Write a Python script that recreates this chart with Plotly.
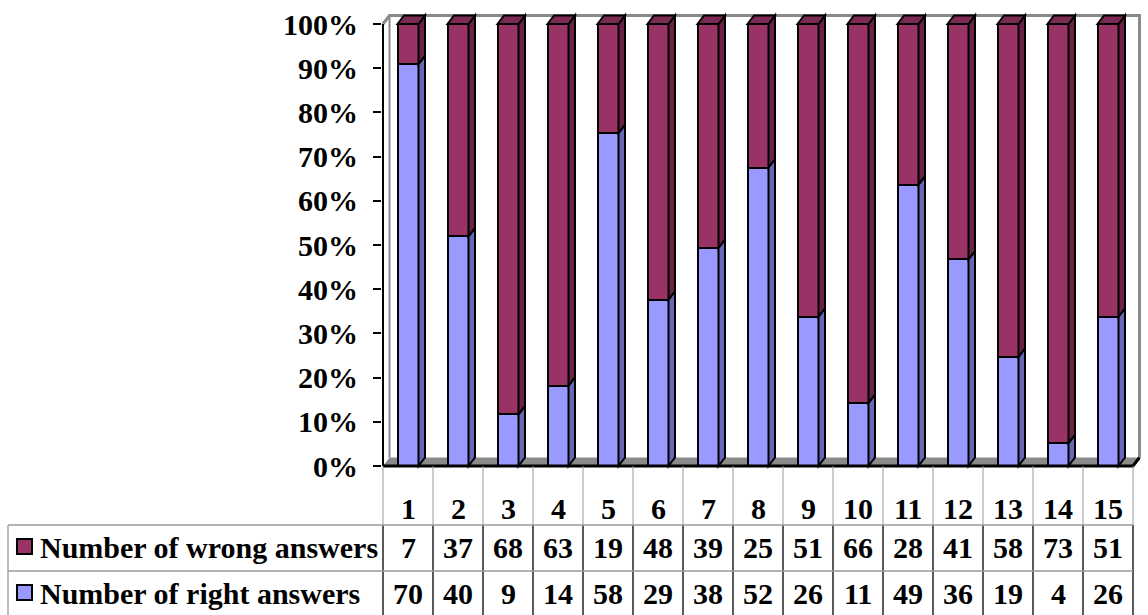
import plotly.graph_objects as go

# ---- data -------------------------------------------------------------
questions = list(range(1, 16))
wrong_answers = [7, 37, 68, 63, 19, 48, 39, 25, 51, 66, 28, 41, 58, 73, 51]
right_answers = [70, 40, 9, 14, 58, 29, 38, 52, 26, 11, 49, 36, 19, 4, 26]
series_names = ["Number of wrong answers", "Number of right answers"]
y_tick_values = [0, 10, 20, 30, 40, 50, 60, 70, 80, 90, 100]
y_tick_labels = [f"{v}%" for v in y_tick_values]

totals = [r + w for r, w in zip(right_answers, wrong_answers)]
pct_right = [100.0 * r / t for r, t in zip(right_answers, totals)]
pct_wrong = [100.0 * w / t for w, t in zip(wrong_answers, totals)]

# ---- page geometry (pixels) -------------------------------------------
W, H = 1148, 615
PLOT_LEFT, PLOT_RIGHT = 382, 1142
PLOT_TOP, PLOT_BOTTOM = 12, 469
PX_PER_CAT = 50.0
ZERO_PX, HUNDRED_PX = 466.0, 24.0
PX_PER_PCT = (ZERO_PX - HUNDRED_PX) / 100.0

plot_w = PLOT_RIGHT - PLOT_LEFT
plot_h = PLOT_BOTTOM - PLOT_TOP
x_lo = 0.5 - 1.0 / PX_PER_CAT
x_range = [x_lo, x_lo + plot_w / PX_PER_CAT]
y_range = [-(PLOT_BOTTOM - ZERO_PX) / PX_PER_PCT, (ZERO_PX - PLOT_TOP) / PX_PER_PCT]

DEPTH_X, DEPTH_Y = 6.5, 8.5
dx = DEPTH_X / PX_PER_CAT
dy = DEPTH_Y / PX_PER_PCT
BAR_W = 0.42
half = BAR_W / 2
x_first, x_last = questions[0] - 0.5, questions[-1] + 0.5

FONT = "Liberation Serif"
BLUE, BLUE_SIDE = "#9999FF", "#6767B5"
MAROON, MAROON_SIDE, MAROON_TOP = "#993366", "#6A2347", "#7B2A53"
GREY = "#8A8A8A"


def data_px_x(v):
    return PLOT_LEFT + (v - x_range[0]) * PX_PER_CAT


def paper_x(px):
    return (px - PLOT_LEFT) / plot_w


def paper_y(px):
    return (PLOT_BOTTOM - px) / plot_h


fig = go.Figure()
fig.add_trace(go.Bar(
    x=questions, y=pct_right, name=series_names[1], width=BAR_W,
    marker=dict(color=BLUE, line=dict(color="black", width=2.3)),
    showlegend=False, hoverinfo="skip"))
fig.add_trace(go.Bar(
    x=questions, y=pct_wrong, name=series_names[0], width=BAR_W,
    marker=dict(color=MAROON, line=dict(color="black", width=2.3)),
    showlegend=False, hoverinfo="skip"))

shapes = []

# back walls and floor of the 3-D box
shapes.append(dict(
    type="path", xref="x", yref="y", layer="below",
    path=(f"M {x_first},0 L {x_first + dx},{dy} L {x_last + dx},{dy} "
          f"L {x_last},0 Z"),
    fillcolor=GREY, line=dict(width=0)))
shapes.append(dict(
    type="path", xref="x", yref="y", layer="below",
    path=(f"M {x_first},100 L {x_first + dx},{100 + dy} "
          f"L {x_last + dx},{100 + dy} L {x_last + dx},{dy}"),
    line=dict(color=GREY, width=3)))
shapes.append(dict(
    type="line", xref="x", yref="y", layer="below",
    x0=x_first + dx, y0=dy, x1=x_first + dx, y1=100 + dy,
    line=dict(color=GREY, width=2)))

# side and top faces of each stacked column
for q, pr in zip(questions, pct_right):
    xr = q + half
    for y0, y1, col in ((0, pr, BLUE_SIDE), (pr, 100, MAROON_SIDE)):
        shapes.append(dict(
            type="path", xref="x", yref="y", layer="above",
            path=(f"M {xr},{y0} L {xr + dx},{y0 + dy} L {xr + dx},{y1 + dy} "
                  f"L {xr},{y1} Z"),
            fillcolor=col, line=dict(color="black", width=2)))
    shapes.append(dict(
        type="path", xref="x", yref="y", layer="above",
        path=(f"M {q - half},100 L {q - half + dx},{100 + dy} "
              f"L {xr + dx},{100 + dy} L {xr},100 Z"),
        fillcolor=MAROON_TOP, line=dict(color="black", width=2)))

# value axis line and front floor edge
shapes.append(dict(
    type="line", xref="x", yref="y", layer="above",
    x0=x_first, y0=0, x1=x_first, y1=100, line=dict(color="black", width=2)))
shapes.append(dict(
    type="path", xref="x", yref="y", layer="above",
    path=f"M {x_first},0 L {x_last},0 L {x_last + dx},{dy}",
    line=dict(color="black", width=3)))

# ---- data table under the chart ---------------------------------------
TABLE_TOP, ROW1, ROW2, TABLE_BOTTOM = 466, 525, 571, 615
TABLE_LEFT = 8
col_edges = [data_px_x(q - 0.5) for q in questions] + [data_px_x(questions[-1] + 0.5)]
LINE_GREY = "#9A9A9A"

for xe in col_edges:
    shapes.append(dict(
        type="line", xref="paper", yref="paper",
        x0=paper_x(xe), x1=paper_x(xe), y0=paper_y(TABLE_TOP), y1=paper_y(ROW1),
        line=dict(color=LINE_GREY, width=1)))
    shapes.append(dict(
        type="line", xref="paper", yref="paper",
        x0=paper_x(xe), x1=paper_x(xe), y0=paper_y(ROW1), y1=paper_y(TABLE_BOTTOM + 2),
        line=dict(color="black", width=1.3)))
for yl in (ROW1, ROW2):
    shapes.append(dict(
        type="line", xref="paper", yref="paper",
        x0=paper_x(TABLE_LEFT), x1=paper_x(col_edges[-1]),
        y0=paper_y(yl), y1=paper_y(yl),
        line=dict(color=LINE_GREY, width=1.3)))
shapes.append(dict(
    type="line", xref="paper", yref="paper",
    x0=paper_x(TABLE_LEFT), x1=paper_x(TABLE_LEFT),
    y0=paper_y(ROW1), y1=paper_y(TABLE_BOTTOM + 2),
    line=dict(color=LINE_GREY, width=1.3)))

annotations = []
cell_font = dict(family=FONT, size=30, color="black", weight="bold")
HEADER_Y, WRONG_Y, RIGHT_Y = 508, 547, 593

for q in questions:
    annotations.append(dict(
        x=q, xref="x", y=paper_y(HEADER_Y), yref="paper", text=str(q),
        showarrow=False, font=cell_font, xanchor="center", yanchor="middle"))
for row_y, values in ((WRONG_Y, wrong_answers), (RIGHT_Y, right_answers)):
    for q, v in zip(questions, values):
        annotations.append(dict(
            x=q, xref="x", y=paper_y(row_y), yref="paper", text=str(v),
            showarrow=False, font=cell_font, xanchor="center", yanchor="middle"))

# legend keys inside the table
for row_y, name, col in ((WRONG_Y, series_names[0], MAROON),
                         (RIGHT_Y, series_names[1], BLUE)):
    shapes.append(dict(
        type="rect", xref="paper", yref="paper",
        x0=paper_x(17), x1=paper_x(32), y0=paper_y(row_y - 8), y1=paper_y(row_y + 7),
        fillcolor=col, line=dict(color="black", width=2)))
    annotations.append(dict(
        x=paper_x(38), xref="paper", y=paper_y(row_y), yref="paper", text=name,
        showarrow=False, font=cell_font, xanchor="left", yanchor="middle"))

fig.update_layout(
    width=W, height=H,
    margin=dict(l=PLOT_LEFT, r=W - PLOT_RIGHT, t=PLOT_TOP, b=H - PLOT_BOTTOM, pad=0),
    paper_bgcolor="white", plot_bgcolor="white",
    barmode="stack", bargap=0,
    shapes=shapes, annotations=annotations,
    xaxis=dict(range=x_range, visible=False, fixedrange=True),
    yaxis=dict(
        range=y_range, tickmode="array", tickvals=y_tick_values, ticktext=y_tick_labels,
        ticks="outside", ticklen=8, tickwidth=1.5, tickcolor="black",
        ticklabelstandoff=9, showgrid=False, zeroline=False, showline=False,
        tickfont=dict(family=FONT, size=30, color="black", weight="bold"),
        fixedrange=True),
)

fig.write_html("out.html")
